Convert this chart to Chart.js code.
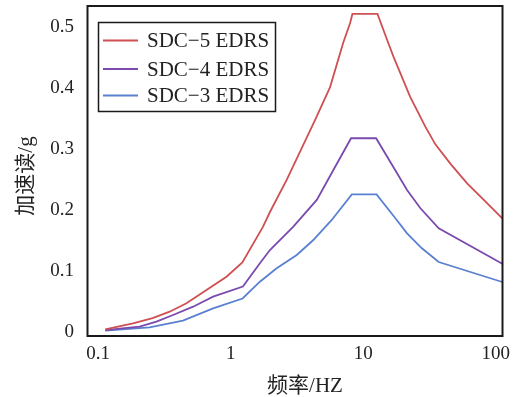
<!DOCTYPE html>
<html><head><meta charset="utf-8">
<script src="https://cdn.jsdelivr.net/npm/chart.js@4/dist/chart.umd.min.js"></script>
<style>html,body{margin:0;padding:0;background:#fff;}#wrap{width:514px;height:397px;position:relative;}</style>
</head><body><div id="wrap"><canvas id="c" width="514" height="397"></canvas></div>
<script>
const seriesNames = ['SDC−5 EDRS', 'SDC−4 EDRS', 'SDC−3 EDRS'];
const seriesColors = ['#cf4f52', '#7a4aae', '#5a80d0'];
const xTickValues = [0.1, 1, 10, 100];
const yTickValues = [0, 0.1, 0.2, 0.3, 0.4, 0.5];
const xTitle = '频率/HZ';
const yTitle = '加速读/g';

const sdc5Freq = [0.113, 0.183, 0.257, 0.346, 0.463, 0.656, 0.929, 1.224, 1.749, 1.976, 2.643, 4.325, 5.62, 7.05, 7.96, 8.28, 12.8, 15.1, 16.9, 22.6, 29.4, 35.0, 45.4, 60.8, 81.2, 112];
const sdc5Acc  = [0.0046, 0.0144, 0.0231, 0.0335, 0.0473, 0.0691, 0.0909, 0.1142, 0.1725, 0.197, 0.2496, 0.3479, 0.402, 0.4743, 0.507, 0.522, 0.522, 0.480, 0.452, 0.386, 0.337, 0.308, 0.2765, 0.244, 0.2168, 0.1867];

const sdc4Freq = [0.113, 0.205, 0.275, 0.367, 0.520, 0.736, 1.235, 1.660, 1.976, 2.967, 4.46, 5.95, 8.09, 12.5, 17.4, 21.4, 26.9, 37.1, 112];
const sdc4Acc  = [0.0034, 0.0089, 0.0171, 0.0281, 0.0417, 0.0581, 0.0748, 0.1129, 0.1347, 0.173, 0.2168, 0.266, 0.318, 0.318, 0.266, 0.233, 0.2036, 0.1703, 0.1122];

const sdc3Freq = [0.113, 0.244, 0.436, 0.736, 1.228, 1.660, 2.220, 3.15, 4.20, 5.78, 8.20, 12.6, 17.9, 21.4, 27.7, 37.1, 112];
const sdc3Acc  = [0.0023, 0.0079, 0.0187, 0.039, 0.0551, 0.0827, 0.1047, 0.1265, 0.1511, 0.184, 0.2258, 0.2258, 0.184, 0.1621, 0.1375, 0.115, 0.0822];

const FONT = "'Liberation Serif', 'Times New Roman', 'Noto Sans CJK SC', serif";
const TEXT = '#222';

function pts(fs, vs) { return fs.map((f, i) => ({x: f, y: vs[i]})); }

const datasets = [[sdc5Freq, sdc5Acc], [sdc4Freq, sdc4Acc], [sdc3Freq, sdc3Acc]].map((s, i) => ({
  label: seriesNames[i],
  data: pts(s[0], s[1]),
  borderColor: seriesColors[i],
  backgroundColor: seriesColors[i],
  borderWidth: 1.8,
  pointRadius: 0,
  tension: 0,
  fill: false
}));

const framePlugin = {
  id: 'frameAndLegend',
  afterDraw(chart) {
    const ctx = chart.ctx, a = chart.chartArea;
    ctx.save();
    ctx.strokeStyle = '#1a1a1a';
    ctx.lineWidth = 2;
    ctx.strokeRect(a.left, a.top, a.right - a.left, a.bottom - a.top);
    // legend
    const lx = 98.5, ly = 22.5, lw = 177, lh = 89;
    ctx.fillStyle = '#fff';
    ctx.fillRect(lx, ly, lw, lh);
    ctx.lineWidth = 1.5;
    ctx.strokeStyle = '#1a1a1a';
    ctx.strokeRect(lx, ly, lw, lh);
    const rows = [40.5, 69, 95.5];
    ctx.font = "21px " + FONT;
    ctx.textBaseline = 'middle';
    ctx.textAlign = 'left';
    chart.data.datasets.forEach((d, i) => {
      ctx.strokeStyle = d.borderColor;
      ctx.lineWidth = 1.8;
      ctx.beginPath();
      ctx.moveTo(103, rows[i]);
      ctx.lineTo(138, rows[i]);
      ctx.stroke();
      ctx.fillStyle = TEXT;
      ctx.fillText(d.label, 147, rows[i] + 1);
    });
    // axis titles
    ctx.fillStyle = TEXT;
    ctx.font = "21px " + FONT;
    ctx.textAlign = 'center';
    ctx.textBaseline = 'middle';
    ctx.fillText(xTitle, 305, 386);
    ctx.save();
    ctx.translate(26, 176);
    ctx.rotate(-Math.PI / 2);
    ctx.fillText(yTitle, 0, 0);
    ctx.restore();
    ctx.restore();
  }
};

new Chart(document.getElementById('c'), {
  type: 'line',
  data: { datasets },
  options: {
    responsive: false,
    devicePixelRatio: 1,
    animation: false,
    layout: { padding: { top: 6, right: 11.5, left: 0, bottom: 0 } },
    plugins: { legend: { display: false }, tooltip: { enabled: false } },
    scales: {
      x: {
        type: 'logarithmic',
        min: 0.083,
        max: 112.4,
        grid: { display: false, drawTicks: false },
        border: { display: false },
        afterBuildTicks: (ax) => { ax.ticks = xTickValues.map(v => ({ value: v })); },
        afterFit: (ax) => { ax.height = 61; ax.paddingLeft = 0; ax.paddingRight = 0; },
        ticks: {
          autoSkip: false, maxRotation: 0, minRotation: 0, padding: 7,
          color: TEXT, font: { family: FONT, size: 19 },
          callback: (v) => String(+v.toPrecision(3))
        }
      },
      y: {
        type: 'linear',
        min: -0.0064,
        max: 0.535,
        grid: { display: false, drawTicks: false },
        border: { display: false },
        afterBuildTicks: (ax) => { ax.ticks = yTickValues.map(v => ({ value: v })); },
        afterFit: (ax) => { ax.width = 87.5; ax.paddingTop = 0; ax.paddingBottom = 0; },
        ticks: {
          padding: 13.5, color: TEXT, font: { family: FONT, size: 19 },
          callback: (v) => String(+v.toFixed(1))
        }
      }
    }
  },
  plugins: [framePlugin]
});
</script>
</body></html>
